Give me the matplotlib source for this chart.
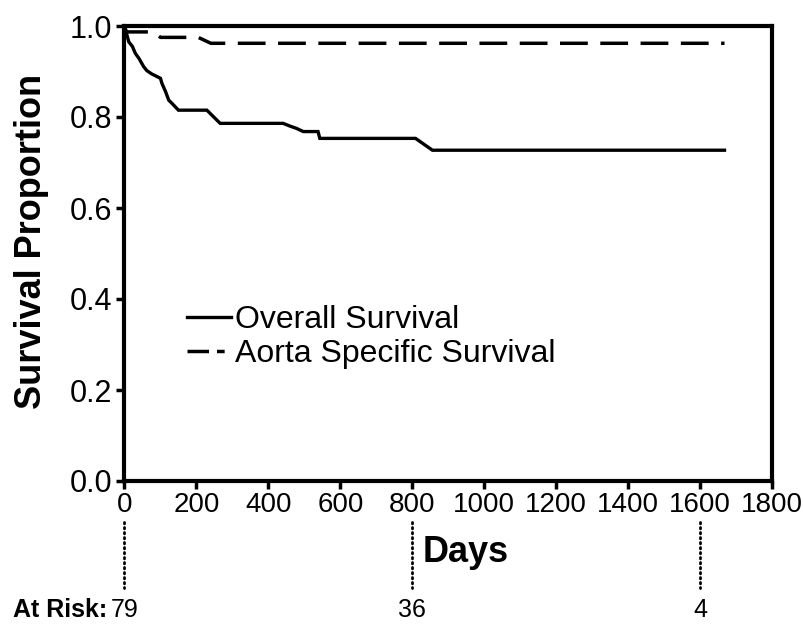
import matplotlib
matplotlib.use("Agg")
import matplotlib.pyplot as plt
from matplotlib.lines import Line2D

plt.rcParams["font.family"] = ["Liberation Sans", "DejaVu Sans"]

# Overall survival (days, proportion)
overall_days = [0, 5, 12, 22, 30, 40, 53, 62, 75, 100, 104, 114, 123, 132, 150,
                229, 243, 266, 441, 460, 478, 497, 538, 543, 809, 856, 1668]
overall_surv = [1.0, 0.985, 0.965, 0.955, 0.940, 0.929, 0.911, 0.902, 0.895,
                0.885, 0.874, 0.856, 0.837, 0.830, 0.815, 0.815, 0.804, 0.786,
                0.786, 0.780, 0.775, 0.768, 0.768, 0.753, 0.753, 0.727, 0.727]

# Aorta specific survival
aorta_days = [0, 5, 80, 100, 205, 240, 1668]
aorta_surv = [1.0, 0.987, 0.987, 0.975, 0.975, 0.962, 0.962]

# numbers at risk
risk_days = [0, 800, 1600]
risk_counts = [79, 36, 4]

labels = ["Overall Survival", "Aorta Specific Survival"]
x_ticks = [0, 200, 400, 600, 800, 1000, 1200, 1400, 1600, 1800]
y_ticks = [0.0, 0.2, 0.4, 0.6, 0.8, 1.0]

fig = plt.figure(figsize=(8.04, 6.29), dpi=100)
ax = fig.add_axes([124.5 / 804, 1 - 481 / 629, 647.5 / 804, 455 / 629])

ax.plot(overall_days, overall_surv, color="black", lw=2.4,
        solid_joinstyle="miter")
ax.plot(aorta_days, aorta_surv, color="black", lw=2.5,
        dashes=(8, 3.6), dash_capstyle="butt")

ax.set_xlim(0, 1800)
ax.set_ylim(0, 1.0)
ax.set_xticks(x_ticks)
ax.set_yticks(y_ticks)
ax.set_yticklabels([f"{v:.1f}" for v in y_ticks])
ax.tick_params(axis="x", labelsize=20, width=2.5, length=6, pad=2)
ax.tick_params(axis="y", labelsize=22, width=2.5, length=6, pad=3)
for sp in ax.spines.values():
    sp.set_linewidth(3)

ax.set_xlabel("Days", fontsize=26, fontweight="bold", va="baseline")
ax.xaxis.set_label_coords((465 - 124) / 648, (481 - 562) / 455)
ax.set_ylabel("Survival Proportion", fontsize=26, fontweight="bold", va="center")
ax.yaxis.set_label_coords((31 - 124) / 648, (481 - 241) / 455)

# legend handles: the dashed one is drawn as "— -" like the original
handles = [Line2D([], [], color="black", lw=2.4),
           Line2D([], [], color="black", lw=2.5, dashes=(6.2, 2.3, 2.2, 10),
                  dash_capstyle="butt")]
ax.legend(handles, labels, loc="upper left",
          bbox_to_anchor=((187 - 124) / 648, (481 - 305) / 455),
          frameon=False, fontsize=23, handlelength=1.35, handletextpad=0.15,
          labelspacing=0.12, borderpad=0, borderaxespad=0)

# at-risk table below the axis
trans = ax.get_xaxis_transform()
for d, n in zip(risk_days, risk_counts):
    ax.plot([d, d], [(481 - 522) / 455, (481 - 588) / 455], transform=trans,
            color="black", lw=2, ls=(0, (0.5, 1.3)), dash_capstyle="round",
            clip_on=False)
    ax.text(d, (481 - 617) / 455, str(n), transform=trans, ha="center",
            va="baseline", fontsize=18)
fig.text(13 / 804, 1 - 617 / 629, "At Risk:", fontsize=18, fontweight="bold",
         ha="left", va="baseline")

fig.savefig("out.png", dpi=100)
